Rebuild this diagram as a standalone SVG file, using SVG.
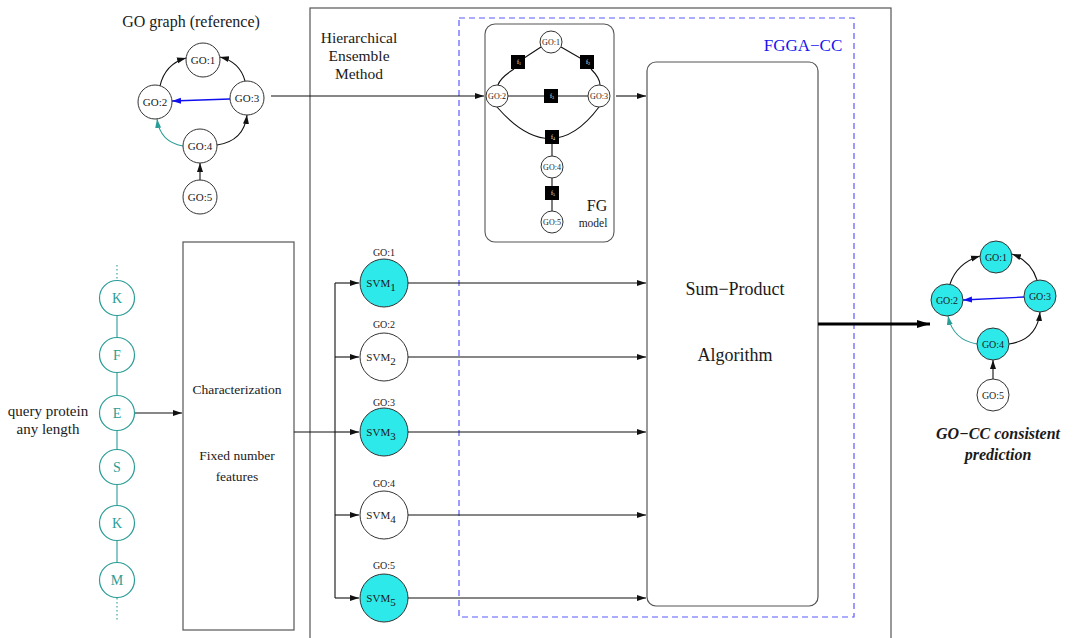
<svg xmlns="http://www.w3.org/2000/svg" width="1085" height="638" viewBox="0 0 1085 638">
  <style>
    text { font-family: "Liberation Serif", "Times New Roman", serif; fill: #1a1a1a; }
    .c { text-anchor: middle; }
    .node { fill: #ffffff; stroke: #333333; stroke-width: 1; }
    .on { fill: #2ee9ea; stroke: #333333; stroke-width: 1; }
    .aa { fill: #ffffff; stroke: #2a9d97; stroke-width: 1.2; }
    .aat { fill: #2a9d97; font-size: 14px; }
    .ln { fill: none; stroke: #111111; stroke-width: 1.1; }
    .teal { fill: none; stroke: #2a9d97; stroke-width: 1.1; }
    .blue { fill: none; stroke: #1010ee; stroke-width: 1.3; }
    .frame { fill: none; stroke: #555555; stroke-width: 1.2; }
    .fac { fill: #000000; }
    .ft { fill: #ffffff; font-size: 6px; }
    .go { font-size: 10px; }
    .gol { font-size: 11px; }
    .gos { font-size: 8px; }
    .svm { font-size: 11px; }
  </style>
  <defs>
    <marker id="ah" markerUnits="userSpaceOnUse" markerWidth="10" markerHeight="8" refX="9" refY="4" orient="auto">
      <path d="M0,1 L9,4 L0,7 Z" fill="#111111"/>
    </marker>
    <marker id="ahb" markerUnits="userSpaceOnUse" markerWidth="10" markerHeight="8" refX="9" refY="4" orient="auto">
      <path d="M0,1 L9,4 L0,7 Z" fill="#1010ee"/>
    </marker>
    <marker id="aht" markerUnits="userSpaceOnUse" markerWidth="10" markerHeight="8" refX="9" refY="4" orient="auto">
      <path d="M0,1 L9,4 L0,7 Z" fill="#2a9d97"/>
    </marker>
    <marker id="ahbig" markerUnits="userSpaceOnUse" markerWidth="14" markerHeight="10" refX="13" refY="5" orient="auto">
      <path d="M0,1 L13,5 L0,9 Z" fill="#000000"/>
    </marker>
  </defs>

  <!-- frames -->
  <g id="frames">
    <rect x="310" y="8" width="581" height="640" class="frame"/>
    <rect x="459" y="18" width="395" height="599" fill="none" stroke="#5a5aff" stroke-width="1.2" stroke-dasharray="6,4"/>
    <text x="803" y="51" class="c" style="font-size:17px; fill:#1515ee">FGGA−CC</text>
    <text x="359" y="43" class="c" style="font-size:15.5px">Hierarchical</text>
    <text x="359" y="61" class="c" style="font-size:15.5px">Ensemble</text>
    <text x="359" y="79" class="c" style="font-size:15.5px">Method</text>
  </g>

  <!-- reference GO graph -->
  <g id="go-reference">
    <text x="191" y="27" class="c" style="font-size:16px">GO graph (reference)</text>
    <path d="M160,86 Q165,64 186,58" class="ln" marker-end="url(#ah)"/>
    <path d="M245,81 Q240,62 220,57" class="ln" marker-end="url(#ah)"/>
    <path d="M230,99 L172,101" class="blue" marker-end="url(#ahb)"/>
    <path d="M183,146 Q160,142 157,119" class="teal" marker-end="url(#aht)"/>
    <path d="M217,145 Q244,141 247,115" class="ln" marker-end="url(#ah)"/>
    <path d="M200,180 L200,163" class="ln" stroke-width="1.6" marker-end="url(#ah)"/>
    <circle cx="203" cy="60" r="17" class="node"/><text x="203" y="64" class="c gol">GO:1</text>
    <circle cx="155" cy="102" r="17" class="node"/><text x="155" y="106" class="c gol">GO:2</text>
    <circle cx="247" cy="98" r="17" class="node"/><text x="247" y="102" class="c gol">GO:3</text>
    <circle cx="200" cy="146" r="17" class="node"/><text x="200" y="150" class="c gol">GO:4</text>
    <circle cx="200" cy="197" r="17" class="node"/><text x="200" y="201" class="c gol">GO:5</text>
  </g>

  <!-- factor graph model -->
  <g id="fg-model">
    <rect x="485" y="24" width="129" height="218" rx="10" fill="none" stroke="#555555" stroke-width="1.1"/>
    <path d="M541,47 L518,62 M514,69 Q500,78 498,85" class="ln" stroke-width="0.9"/>
    <path d="M561,47 L587,62 M591,69 Q600,78 600,85" class="ln" stroke-width="0.9"/>
    <path d="M507,96 L588,96" class="ln" stroke-width="0.9"/>
    <path d="M497,107 Q552,170 599,107" class="ln" stroke-width="0.9"/>
    <path d="M552,137 L552,211" class="ln" stroke-width="0.9"/>
    <rect x="511" y="55" width="14" height="14" class="fac"/><text x="517" y="64" class="ft">f<tspan dy="1" font-size="4">1</tspan></text>
    <rect x="580" y="55" width="14" height="14" class="fac"/><text x="586" y="64" class="ft">f<tspan dy="1" font-size="4">2</tspan></text>
    <rect x="544" y="89" width="14" height="14" class="fac"/><text x="550" y="98" class="ft">f<tspan dy="1" font-size="4">3</tspan></text>
    <rect x="545" y="130" width="14" height="14" class="fac"/><text x="551" y="139" class="ft">f<tspan dy="1" font-size="4">4</tspan></text>
    <rect x="545" y="186" width="14" height="14" class="fac"/><text x="551" y="195" class="ft">f<tspan dy="1" font-size="4">5</tspan></text>
    <circle cx="551" cy="42" r="11" class="node"/><text x="551" y="45" class="c gos">GO:1</text>
    <circle cx="497" cy="96" r="11" class="node"/><text x="497" y="99" class="c gos">GO:2</text>
    <circle cx="599" cy="96" r="11" class="node"/><text x="599" y="99" class="c gos">GO:3</text>
    <circle cx="552" cy="167" r="11" class="node"/><text x="552" y="170" class="c gos">GO:4</text>
    <circle cx="552" cy="222" r="11" class="node"/><text x="552" y="225" class="c gos">GO:5</text>
    <text x="597" y="211" class="c" style="font-size:16px">FG</text>
    <text x="593" y="227" class="c" style="font-size:11.5px">model</text>
  </g>

  <!-- query protein chain -->
  <g id="protein">
    <text x="48" y="416" class="c" style="font-size:15px">query protein</text>
    <text x="48" y="434" class="c" style="font-size:15px">any length</text>
    <path d="M117,265 L117,280 M117,598 L117,620" class="teal" stroke-dasharray="1.5,2.5"/>
    <path d="M117,315 L117,338 M117,372 L117,396 M117,430 L117,450 M117,484 L117,506 M117,540 L117,563" class="teal"/>
    <circle cx="117" cy="298" r="17.5" class="aa"/><text x="117" y="303" class="c aat">K</text>
    <circle cx="117" cy="355" r="17.5" class="aa"/><text x="117" y="360" class="c aat">F</text>
    <circle cx="117" cy="413" r="17.5" class="aa"/><text x="117" y="418" class="c aat">E</text>
    <circle cx="117" cy="467" r="17.5" class="aa"/><text x="117" y="472" class="c aat">S</text>
    <circle cx="117" cy="523" r="17.5" class="aa"/><text x="117" y="528" class="c aat">K</text>
    <circle cx="117" cy="580" r="17.5" class="aa"/><text x="117" y="585" class="c aat">M</text>
  </g>

  <!-- characterization -->
  <g id="characterization">
    <rect x="183" y="242" width="111" height="388" fill="none" stroke="#555555" stroke-width="1.2"/>
    <text x="237" y="394" class="c" style="font-size:13.5px">Characterization</text>
    <text x="237" y="460" class="c" style="font-size:13.5px">Fixed number</text>
    <text x="237" y="481" class="c" style="font-size:13.5px">features</text>
  </g>

  <!-- SVM classifiers -->
  <g id="svm1">
    <text x="384" y="256" class="c go">GO:1</text>
    <circle cx="384" cy="283" r="24" class="on"/>
    <text x="381" y="287" class="c svm">SVM<tspan dy="4">1</tspan></text>
  </g>
  <g id="svm2">
    <text x="384" y="328" class="c go">GO:2</text>
    <circle cx="384" cy="357" r="24" class="node"/>
    <text x="381" y="361" class="c svm">SVM<tspan dy="4">2</tspan></text>
  </g>
  <g id="svm3">
    <text x="384" y="406" class="c go">GO:3</text>
    <circle cx="384" cy="432" r="24" class="on"/>
    <text x="381" y="436" class="c svm">SVM<tspan dy="4">3</tspan></text>
  </g>
  <g id="svm4">
    <text x="384" y="487" class="c go">GO:4</text>
    <circle cx="384" cy="515" r="24" class="node"/>
    <text x="381" y="519" class="c svm">SVM<tspan dy="4">4</tspan></text>
  </g>
  <g id="svm5">
    <text x="384" y="569" class="c go">GO:5</text>
    <circle cx="384" cy="598" r="24" class="on"/>
    <text x="381" y="602" class="c svm">SVM<tspan dy="4">5</tspan></text>
  </g>

  <!-- sum-product -->
  <g id="sum-product">
    <rect x="647" y="62" width="171" height="544" rx="9" fill="#ffffff" stroke="#555555" stroke-width="1.2"/>
    <text x="735" y="295" class="c" style="font-size:18px">Sum−Product</text>
    <text x="735" y="361" class="c" style="font-size:18px">Algorithm</text>
  </g>

  <!-- consistent prediction -->
  <g id="go-prediction">
    <path d="M950,284 Q957,263 980,256" class="ln" marker-end="url(#ah)"/>
    <path d="M1037,280 Q1031,261 1012,254" class="ln" marker-end="url(#ah)"/>
    <path d="M1024,297 L963,300" class="blue" marker-end="url(#ahb)"/>
    <path d="M977,344 Q953,340 948,316" class="teal" marker-end="url(#aht)"/>
    <path d="M1009,344 Q1037,340 1040,312" class="ln" marker-end="url(#ah)"/>
    <path d="M993,379 L993,360" class="ln" stroke-width="1.6" marker-end="url(#ah)"/>
    <circle cx="996" cy="257" r="16" class="on"/><text x="996" y="261" class="c go">GO:1</text>
    <circle cx="947" cy="300" r="16" class="on"/><text x="947" y="304" class="c go">GO:2</text>
    <circle cx="1040" cy="296" r="16" class="on"/><text x="1040" y="300" class="c go">GO:3</text>
    <circle cx="993" cy="344" r="16" class="on"/><text x="993" y="348" class="c go">GO:4</text>
    <circle cx="993" cy="395" r="16" class="node"/><text x="993" y="399" class="c go">GO:5</text>
    <text x="998" y="439" class="c" style="font-size:16px; font-weight:bold; font-style:italic">GO−CC consistent</text>
    <text x="998" y="460" class="c" style="font-size:16px; font-weight:bold; font-style:italic">prediction</text>
  </g>

  <!-- connectors -->
  <g id="connectors">
    <path d="M271,96 L484,96" class="ln" marker-end="url(#ah)"/>
    <path d="M616,96 L646,96" class="ln" marker-end="url(#ah)"/>
    <path d="M135,413 L182,413" class="ln" marker-end="url(#ah)"/>
    <path d="M294,432 L335,432" class="ln"/>
    <path d="M335,283 L335,598" class="ln"/>
    <path d="M335,283 L359,283" class="ln" marker-end="url(#ah)"/>
    <path d="M335,357 L359,357" class="ln" marker-end="url(#ah)"/>
    <path d="M335,432 L359,432" class="ln" marker-end="url(#ah)"/>
    <path d="M335,515 L359,515" class="ln" marker-end="url(#ah)"/>
    <path d="M335,598 L359,598" class="ln" marker-end="url(#ah)"/>
    <path d="M408,283 L646,283" class="ln" marker-end="url(#ah)"/>
    <path d="M408,357 L646,357" class="ln" marker-end="url(#ah)"/>
    <path d="M408,432 L646,432" class="ln" marker-end="url(#ah)"/>
    <path d="M408,515 L646,515" class="ln" marker-end="url(#ah)"/>
    <path d="M408,598 L646,598" class="ln" marker-end="url(#ah)"/>
    <path d="M818,324 L930,324" fill="none" stroke="#000000" stroke-width="3" marker-end="url(#ahbig)"/>
  </g>
</svg>
